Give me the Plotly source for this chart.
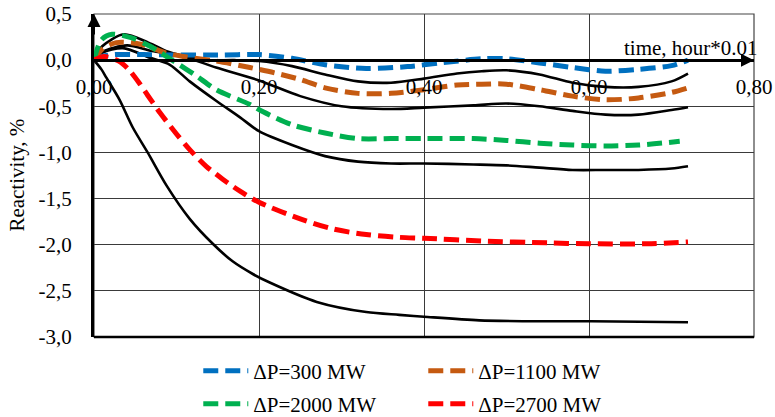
import plotly.graph_objects as go

# ---------------- data ----------------
t_300 = [0, 0.01, 0.025, 0.06, 0.10, 0.15, 0.20, 0.24, 0.28, 0.33, 0.38, 0.42, 0.47, 0.50, 0.54, 0.58, 0.62, 0.66, 0.70, 0.72]
r_300 = [0, 0.04, 0.06, 0.06, 0.055, 0.055, 0.06, 0.02, -0.05, -0.09, -0.07, -0.03, 0.015, 0.015, -0.03, -0.08, -0.12, -0.10, -0.06, 0.0]

t_1100 = [0, 0.01, 0.027, 0.058, 0.086, 0.108, 0.148, 0.189, 0.22, 0.25, 0.28, 0.32, 0.36, 0.40, 0.44, 0.47, 0.50, 0.54, 0.58, 0.62, 0.66, 0.70, 0.72]
r_1100 = [0, 0.12, 0.19, 0.17, 0.08, 0.04, -0.01, -0.08, -0.14, -0.21, -0.30, -0.36, -0.36, -0.32, -0.27, -0.26, -0.26, -0.32, -0.39, -0.43, -0.41, -0.35, -0.30]

t_2000 = [0, 0.009, 0.022, 0.046, 0.068, 0.10, 0.124, 0.148, 0.189, 0.205, 0.24, 0.28, 0.32, 0.36, 0.40, 0.46, 0.50, 0.54, 0.58, 0.62, 0.66, 0.71]
r_2000 = [0, 0.22, 0.28, 0.24, 0.15, -0.03, -0.17, -0.32, -0.48, -0.56, -0.70, -0.79, -0.85, -0.85, -0.85, -0.85, -0.87, -0.90, -0.92, -0.93, -0.92, -0.88]

t_2700 = [0, 0.012, 0.03, 0.042, 0.055, 0.065, 0.08, 0.10, 0.116, 0.136, 0.156, 0.177, 0.20, 0.25, 0.29, 0.33, 0.37, 0.40, 0.47, 0.55, 0.60, 0.67, 0.72]
r_2700 = [0, 0.04, -0.01, -0.10, -0.25, -0.38, -0.57, -0.80, -0.97, -1.15, -1.29, -1.42, -1.54, -1.72, -1.83, -1.89, -1.92, -1.93, -1.96, -1.98, -1.99, -1.99, -1.97]

# black (unlabelled) curves
t_blk_a = [0, 0.01, 0.036, 0.066, 0.09, 0.116, 0.136, 0.17, 0.20, 0.24, 0.28, 0.32, 0.36, 0.40, 0.44, 0.47, 0.50, 0.54, 0.58, 0.62, 0.66, 0.70, 0.72]
r_blk_a = [0, 0.15, 0.28, 0.19, 0.09, 0.03, 0.0, 0.0, -0.01, -0.065, -0.155, -0.23, -0.245, -0.20, -0.145, -0.12, -0.11, -0.155, -0.245, -0.29, -0.29, -0.23, -0.145]

t_blk_b = [0, 0.01, 0.04, 0.07, 0.108, 0.148, 0.20, 0.25, 0.30, 0.36, 0.40, 0.46, 0.50, 0.54, 0.58, 0.62, 0.66, 0.70, 0.72]
r_blk_b = [0, 0.09, 0.16, 0.10, 0.04, -0.08, -0.22, -0.39, -0.50, -0.53, -0.515, -0.49, -0.47, -0.50, -0.55, -0.59, -0.59, -0.54, -0.51]

t_blk_c = [0, 0.01, 0.035, 0.068, 0.092, 0.116, 0.148, 0.177, 0.20, 0.24, 0.28, 0.32, 0.36, 0.40, 0.46, 0.50, 0.54, 0.58, 0.62, 0.66, 0.70, 0.72]
r_blk_c = [0, 0.08, 0.13, 0.025, -0.05, -0.23, -0.44, -0.62, -0.77, -0.92, -1.04, -1.10, -1.12, -1.12, -1.13, -1.14, -1.165, -1.19, -1.19, -1.19, -1.175, -1.15]

t_blk_d = [0, 0.009, 0.015, 0.031, 0.047, 0.065, 0.088, 0.116, 0.144, 0.168, 0.193, 0.213, 0.27, 0.33, 0.37, 0.40, 0.467, 0.548, 0.603, 0.72]
r_blk_d = [0, -0.10, -0.19, -0.43, -0.73, -1.00, -1.36, -1.72, -1.99, -2.18, -2.32, -2.41, -2.62, -2.73, -2.76, -2.78, -2.82, -2.83, -2.83, -2.84]

series_names = ["ΔP=300 MW", "ΔP=1100 MW", "ΔP=2000 MW", "ΔP=2700 MW"]

x_tick_vals = [0, 0.2, 0.4, 0.6, 0.8]
x_tick_labels = ["0,00", "0,20", "0,40", "0,60", "0,80"]
y_tick_vals = [0.5, 0.0, -0.5, -1.0, -1.5, -2.0, -2.5, -3.0]
y_tick_labels = ["0,5", "0,0", "-0,5", "-1,0", "-1,5", "-2,0", "-2,5", "-3,0"]

x_title = "time, hour*0.01"
y_title = "Reactivity, %"

# ---------------- figure ----------------
FONT = "Liberation Serif"
FS = 21
fig = go.Figure()

for tx, ry in [(t_blk_a, r_blk_a), (t_blk_b, r_blk_b), (t_blk_c, r_blk_c), (t_blk_d, r_blk_d)]:
    fig.add_trace(go.Scatter(x=tx, y=ry, mode="lines", showlegend=False,
                             line=dict(color="black", width=2.6, shape="spline", smoothing=0.8),
                             hoverinfo="skip"))

colors = ["#0070C0", "#C55A11", "#00B050", "#FF0000"]
data = [(t_300, r_300), (t_1100, r_1100), (t_2000, r_2000), (t_2700, r_2700)]
legends = ["legend", "legend", "legend2", "legend2"]
for (tx, ry), name, c, lg in zip(data, series_names, colors, legends):
    fig.add_trace(go.Scatter(x=tx, y=ry, mode="lines", name=name, legend=lg,
                             line=dict(color=c, width=5, dash="15px,7px", shape="spline", smoothing=0.8)))

grid_col = "#3a3a3a"
leg_common = dict(orientation="h", x=0.158, xanchor="left", yanchor="middle", yref="container",
                  entrywidth=165, itemwidth=45,
                  font=dict(size=FS, family=FONT), bgcolor="rgba(0,0,0,0)")
fig.update_layout(
    width=775, height=417,
    margin=dict(l=94, r=21, t=14, b=80, autoexpand=False),
    paper_bgcolor="white", plot_bgcolor="white",
    font=dict(family=FONT, size=FS, color="black"),
    xaxis=dict(range=[0, 0.8], tickvals=x_tick_vals, ticktext=x_tick_labels,
               anchor="free", position=3.0 / 3.5, automargin=False,
               showline=True, linecolor="black", linewidth=2.5,
               showgrid=True, gridcolor=grid_col, gridwidth=1,
               zeroline=False, ticks="", tickfont=dict(size=FS, family=FONT),
               ticklabelstandoff=7),
    yaxis=dict(range=[-3.0, 0.5], tickvals=y_tick_vals, ticktext=y_tick_labels,
               automargin=False,
               showline=True, linecolor="black", linewidth=3,
               showgrid=True, gridcolor=grid_col, gridwidth=1,
               zeroline=False, ticks="", tickfont=dict(size=FS, family=FONT),
               ticklabelstandoff=15),
    legend=dict(y=1 - 371 / 417, **leg_common),
    legend2=dict(y=1 - 404 / 417, **leg_common),
    showlegend=True,
)

# frame
fig.add_shape(type="rect", xref="paper", yref="paper", x0=0, x1=1, y0=0, y1=1,
              line=dict(color="#444", width=1.2), layer="below")
fig.add_shape(type="line", xref="paper", yref="paper", x0=0, x1=1, y0=0, y1=0,
              line=dict(color="black", width=2.5))

# axis arrows
fig.add_annotation(x=0, y=0.5, xref="x", yref="y", ax=0, ay=22,
                   text="", showarrow=True, arrowhead=2, arrowsize=1.3, arrowwidth=2, arrowcolor="black")
fig.add_annotation(x=0.8, y=0, xref="x", yref="y", ax=-22, ay=0,
                   text="", showarrow=True, arrowhead=2, arrowsize=1.3, arrowwidth=2, arrowcolor="black")

# axis titles
fig.add_annotation(x=(760 - 94) / 660, y=0, xref="paper", yref="y", xanchor="right", yanchor="bottom",
                   text=x_title, showarrow=False, font=dict(size=FS, family=FONT), yshift=-2)
fig.add_annotation(x=-0.118, y=0.5, xref="paper", yref="paper", xanchor="center", yanchor="middle",
                   text=y_title, textangle=-90, showarrow=False, font=dict(size=FS, family=FONT))

fig.write_html("out.html", post_script="document.body.style.margin='0px';",
               config={"displayModeBar": False})
